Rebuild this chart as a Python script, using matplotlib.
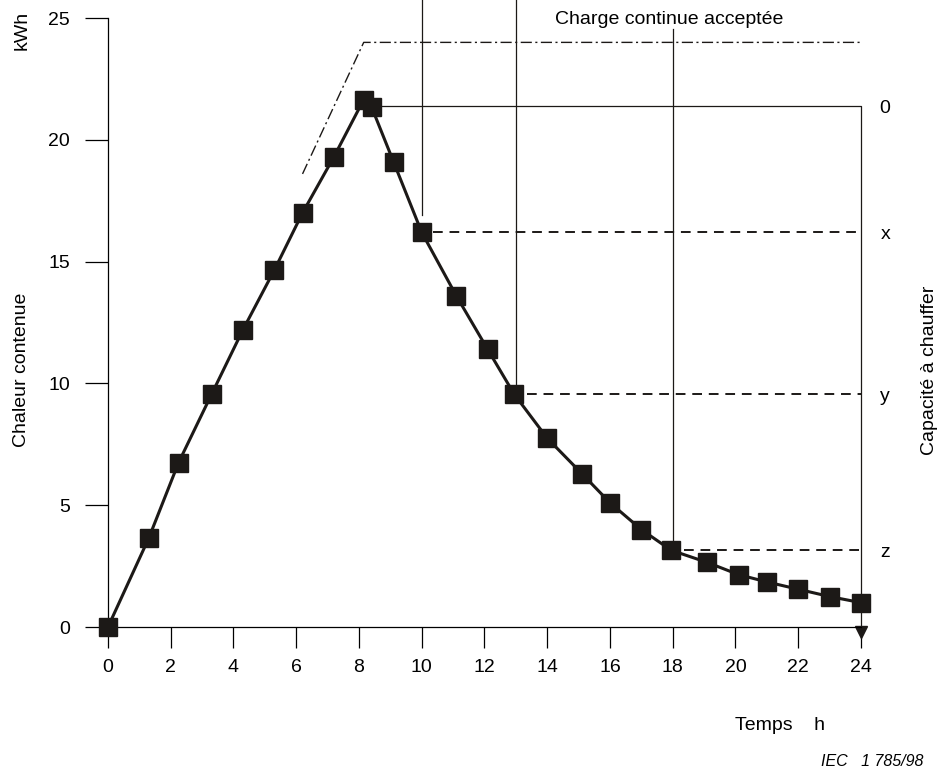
import matplotlib
matplotlib.use("Agg")
import matplotlib.pyplot as plt

plt.rcParams['font.family'] = ['Liberation Sans', 'DejaVu Sans']

# heat stored over time
hours = [0, 1.3, 2.25, 3.3, 4.3, 5.3, 6.2, 7.2, 8.15, 8.4, 9.1, 10, 11.1, 12.1,
         12.95, 14, 15.1, 16, 17, 17.95, 19.1, 20.1, 21, 22, 23, 24]
heat = [0, 3.65, 6.75, 9.55, 12.2, 14.65, 17.0, 19.3, 21.65, 21.35, 19.1, 16.2,
        13.6, 11.4, 9.55, 7.75, 6.3, 5.1, 4.0, 3.15, 2.65, 2.15, 1.85, 1.55, 1.25, 1.0]

# accepted continuous charge (dash-dot)
charge_x = [6.2, 8.15, 24]
charge_y = [18.6, 24.0, 24.0]

# reading levels
peak_level = 21.4
level_hours = [10, 13, 18]
level_values = [16.2, 9.55, 3.15]
level_tops = [25.74, 25.74, 24.55]
level_bottoms = [16.9, 9.55, 3.15]
level_names = ["x", "y", "z"]

xticks = list(range(0, 25, 2))
yticks = [0, 5, 10, 15, 20, 25]

ink = "#1c1917"
fs = 14

fig = plt.figure(figsize=(9.51, 7.75), dpi=100)
ax = fig.add_axes([108 / 951, 148 / 775, 753 / 951, 627 / 775])
ax.set_xlim(0, 24)
ax.set_ylim(0, 25.74)

# thin vertical reading lines
for h, top, bot in zip(level_hours, level_tops, level_bottoms):
    ax.plot([h, h], [bot, top], color=ink, lw=0.9, clip_on=False)

# dashed horizontals
for h, v in zip(level_hours, level_values):
    ax.plot([h + 0.35, 24], [v, v], color=ink, lw=1.4, ls=(0, (5, 3.5)), clip_on=False)

# peak level and right-hand scale
ax.plot([8.4, 24, 24], [peak_level, peak_level, 0], color=ink, lw=0.9, clip_on=False)
ax.plot([24], [-0.22], marker="v", ms=8, color=ink, clip_on=False)

ax.plot(charge_x, charge_y, color=ink, lw=1.0, ls=(0, (8, 2.5, 1.5, 2.5)), clip_on=False)

ax.plot(hours, heat, color=ink, lw=2.2, marker="s", ms=13, mfc=ink, mec=ink,
        clip_on=False, zorder=5)

ax.text(24.77, peak_level - 0.1, "0", fontsize=fs, ha="center", va="center")
for v, name in zip(level_values, level_names):
    ax.text(24.77, v - 0.1, name, fontsize=fs, ha="center", va="center")

ax.text(17.9, 24.92, "Charge continue acceptée", fontsize=fs, ha="center", va="center")

for s in ["top", "right"]:
    ax.spines[s].set_visible(False)
ax.spines["left"].set_bounds(0, 25)
ax.spines["bottom"].set_bounds(0, 24)
ax.spines["left"].set_linewidth(0.9)
ax.spines["bottom"].set_linewidth(0.9)

ax.set_xticks(xticks)
ax.set_yticks(yticks)
ax.tick_params(axis="y", length=16.5, width=0.9, pad=11, labelsize=fs)
ax.tick_params(axis="x", length=15, width=0.9, pad=8, labelsize=fs)

fig.text(22 / 951, 1 - 370 / 775, "Chaleur contenue", rotation=90, fontsize=fs,
         ha="center", va="center")
fig.text(22 / 951, 1 - 30 / 775, "kWh", rotation=90, fontsize=fs, ha="center", va="center")
fig.text(930 / 951, 1 - 370 / 775, "Capacité à chauffer", rotation=90, fontsize=fs,
         ha="center", va="center")
fig.text(780 / 951, 1 - 725 / 775, "Temps    h", fontsize=fs, ha="center", va="center")
fig.text(872 / 951, 1 - 762 / 775, "IEC   1 785/98", fontsize=11.5, style="italic",
         ha="center", va="center")

fig.savefig("out.png", dpi=100)
